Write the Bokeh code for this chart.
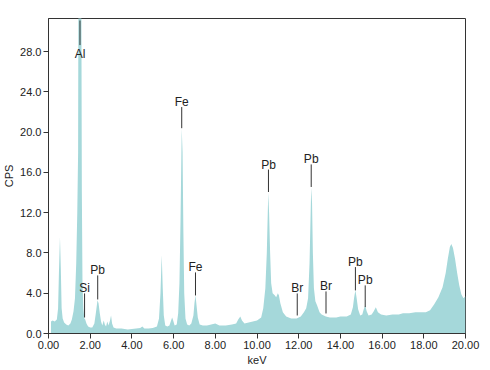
from bokeh.plotting import figure
from bokeh.models import Range1d, FixedTicker, NumeralTickFormatter, ColumnDataSource
from bokeh.core.properties import value
from bokeh.embed import file_html
from bokeh.resources import INLINE

# spectrum outline (keV, counts per second)
energy = [0.12, 0.20, 0.30, 0.40, 0.46, 0.50, 0.55, 0.59, 0.63, 0.68, 0.75, 0.85, 0.95,
          1.05, 1.12, 1.20, 1.27, 1.33, 1.38, 1.42, 1.44, 1.47, 1.55, 1.58, 1.60, 1.63,
          1.67, 1.72, 1.76, 1.82, 1.90, 2.00, 2.10, 2.20, 2.27, 2.35, 2.40, 2.46, 2.52,
          2.58, 2.65, 2.70, 2.76, 2.82, 2.88, 2.95, 3.00, 3.05, 3.12, 3.25, 3.50, 3.80,
          4.00, 4.20, 4.40, 4.50, 4.60, 4.80, 5.00, 5.20, 5.30, 5.37, 5.43, 5.48, 5.53,
          5.60, 5.70, 5.80, 5.88, 5.93, 5.98, 6.05, 6.15, 6.22, 6.28, 6.33, 6.39, 6.43,
          6.47, 6.51, 6.57, 6.65, 6.75, 6.85, 6.95, 7.00, 7.05, 7.10, 7.16, 7.25, 7.40,
          7.60, 7.80, 8.00, 8.20, 8.50, 8.80, 9.00, 9.10, 9.20, 9.28, 9.40, 9.60, 9.80,
          10.00, 10.20, 10.30, 10.40, 10.47, 10.54, 10.58, 10.63, 10.68, 10.75, 10.85,
          10.92, 11.00, 11.05, 11.12, 11.24, 11.40, 11.64, 11.90, 12.10, 12.25, 12.36,
          12.45, 12.52, 12.60, 12.64, 12.68, 12.73, 12.80, 12.88, 13.00, 13.10, 13.30,
          13.50, 13.80, 14.00, 14.30, 14.50, 14.60, 14.66, 14.72, 14.78, 14.85, 14.95,
          15.05, 15.12, 15.19, 15.26, 15.35, 15.50, 15.60, 15.70, 15.80, 15.95, 16.20,
          16.50, 16.80, 17.00, 17.30, 17.60, 17.90, 18.10, 18.30, 18.50, 18.70, 18.90,
          19.05, 19.15, 19.25, 19.32, 19.40, 19.50, 19.60, 19.70, 19.80, 19.90, 20.00]
cps = [1.2, 1.3, 1.2, 1.4, 2.5, 6.0, 9.6, 6.5, 2.5, 1.5, 1.1, 0.9, 0.8,
       1.0, 1.4, 2.2, 3.5, 7.0, 12.0, 18.0, 40.0, 45.0, 45.0, 30.0, 14.0, 5.0,
       2.5, 1.5, 1.4, 1.0, 0.7, 0.6, 0.6, 1.0, 2.0, 3.3, 3.0, 2.0, 1.2,
       0.8, 1.3, 0.9, 0.7, 1.2, 0.8, 1.3, 1.8, 1.0, 0.6, 0.5, 0.5, 0.4,
       0.45, 0.5, 0.55, 0.7, 0.5, 0.5, 0.55, 0.7, 1.5, 4.0, 7.8, 4.5, 1.8,
       0.8, 0.7, 0.8, 1.3, 1.6, 1.3, 0.8, 0.9, 2.0, 5.0, 11.0, 20.4, 18.0,
       10.0, 4.0, 1.5, 0.9, 0.8, 1.0, 1.8, 3.0, 3.8, 2.8, 1.6, 0.9, 0.8,
       0.8, 0.9, 1.0, 0.8, 0.8, 0.9, 1.0, 1.4, 1.7, 1.3, 1.0, 1.1, 1.2,
       1.3, 1.6, 2.5, 4.5, 8.0, 14.0, 12.0, 8.0, 5.0, 4.0, 3.8,
       3.6, 4.0, 3.8, 3.0, 2.1, 1.7, 1.5, 1.5, 1.7, 2.1, 2.5,
       3.5, 7.0, 14.5, 13.0, 8.0, 4.5, 3.2, 2.8, 2.1, 1.9, 1.7,
       1.6, 1.6, 1.7, 1.7, 1.9, 2.6, 3.6, 4.3, 3.5, 2.4, 1.8,
       1.9, 2.4, 2.8, 2.2, 1.8, 1.9, 2.2, 2.6, 2.1, 1.9, 1.8,
       1.9, 1.9, 2.0, 2.0, 2.1, 2.1, 2.1, 2.3, 2.9, 3.6, 4.6,
       6.0, 7.4, 8.6, 8.9, 8.5, 7.4, 6.0, 4.8, 3.9, 3.5, 3.7]

# element markers
marker_names = ["Si", "Pb", "Fe", "Fe", "Pb", "Br", "Pb", "Br", "Pb", "Pb"]
marker_kev = [1.73, 2.36, 6.39, 7.05, 10.55, 11.93, 12.60, 13.31, 14.72, 15.19]
marker_top = [3.98, 5.77, 22.5, 6.07, 16.29, 3.98, 16.8, 4.18, 6.6, 4.78]
marker_bottom = [1.59, 3.38, 20.4, 3.78, 14.06, 1.79, 14.56, 1.99, 4.28, 2.62]
al_name = ["Al"]
al_kev = [1.51]
al_top = [31.1]
al_bottom = [28.66]

x_ticks = [0, 2, 4, 6, 8, 10, 12, 14, 16, 18, 20]
y_ticks = [0, 4, 8, 12, 16, 20, 24, 28]

FONT = "Liberation Sans"
TEAL = "#a5d8da"
DARK = "#333333"

p = figure(frame_width=417, frame_height=315, output_backend="svg", toolbar_location=None,
           x_range=Range1d(0, 20), y_range=Range1d(0, 31.3),
           min_border_left=41, min_border_top=18, min_border_right=16, min_border_bottom=20)

p.varea(x=energy, y1=[0] * len(cps), y2=cps, fill_color=TEAL)

src = ColumnDataSource(dict(x=marker_kev, top=marker_top, bot=marker_bottom, name=marker_names))
p.segment(x0="x", y0="bot", x1="x", y1="top", source=src, line_color=DARK, line_width=1)
p.text(x="x", y="top", text="name", source=src, text_align="center", text_baseline="alphabetic",
       y_offset=-5, text_font=value(FONT), text_font_size="12px", text_color="#222222")

asrc = ColumnDataSource(dict(x=al_kev, top=al_top, bot=al_bottom, name=al_name))
p.segment(x0="x", y0="bot", x1="x", y1="top", source=asrc, line_color=DARK, line_width=1)
p.text(x="x", y="bot", text="name", source=asrc, text_align="center", text_baseline="top",
       y_offset=2, text_font=value(FONT), text_font_size="12px", text_color="#222222")

p.xgrid.visible = False
p.ygrid.visible = False
p.outline_line_color = DARK
p.outline_line_width = 1
p.background_fill_color = "white"
p.border_fill_color = "white"

p.xaxis.ticker = FixedTicker(ticks=x_ticks)
p.yaxis.ticker = FixedTicker(ticks=y_ticks)
p.xaxis.formatter = NumeralTickFormatter(format="0.00")
p.yaxis.formatter = NumeralTickFormatter(format="0.0")
p.xaxis.axis_label = "keV"
p.yaxis.axis_label = "CPS"
for ax in (p.xaxis, p.yaxis):
    ax.axis_line_color = DARK
    ax.major_tick_line_color = DARK
    ax.minor_tick_line_color = None
    ax.major_tick_in = 0
    ax.major_tick_out = 5
    ax.major_label_text_font = FONT
    ax.major_label_text_font_size = "11px"
    ax.major_label_text_color = "#222222"
    ax.axis_label_text_font = FONT
    ax.axis_label_text_font_size = "11px"
    ax.axis_label_text_font_style = "normal"
    ax.axis_label_text_color = "#222222"
    ax.major_label_standoff = 2
    ax.axis_label_standoff = 2

open("out.html", "w").write(file_html(p, INLINE))
